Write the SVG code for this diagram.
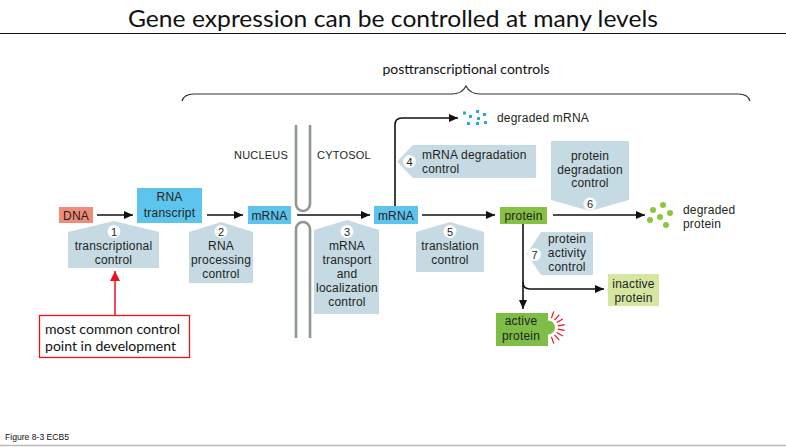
<svg xmlns="http://www.w3.org/2000/svg" width="786" height="447" viewBox="0 0 786 447">
<defs>
<style>
.lbl{font-family:"Liberation Sans",Arial,sans-serif;font-size:12px;letter-spacing:0.2px;fill:#231f20;text-anchor:middle}
.lft{text-anchor:start}
.n{font-size:11px;letter-spacing:0}
.ctl{fill:#c6dae3}
.num{fill:#fff}
.conn{stroke:#111;stroke-width:1.6;fill:none}
.mem{stroke:#8e9893;stroke-width:2.6;fill:none}
.cal{font-family:Lato,"Liberation Sans",sans-serif;fill:#111}
</style>
<marker id="ah" markerUnits="userSpaceOnUse" markerWidth="9" markerHeight="8" refX="9" refY="4" orient="auto">
<path d="M0,0 L9,4 L0,8 Z" fill="#111"/>
</marker>
<marker id="ahr" markerUnits="userSpaceOnUse" markerWidth="10" markerHeight="10" refX="10" refY="5" orient="auto">
<path d="M0,0 L10,5 L0,10 Z" fill="#e8141c"/>
</marker>
</defs>
<rect width="786" height="447" fill="#fff"/>

<text class="cal" x="393" y="27" font-size="24" text-anchor="middle" textLength="530" lengthAdjust="spacingAndGlyphs">Gene expression can be controlled at many levels</text>
<line x1="0" y1="33.5" x2="786" y2="33.5" stroke="#111" stroke-width="1.2"/>
<line x1="0" y1="445.5" x2="786" y2="445.5" stroke="#bbb" stroke-width="1.5"/>
<text x="5" y="440" font-family="'Liberation Sans',Arial,sans-serif" font-size="9" fill="#111" textLength="64" lengthAdjust="spacingAndGlyphs">Figure 8-3  ECB5</text>

<g id="brace">
<text class="cal" x="466" y="74" font-size="13.5" text-anchor="middle" textLength="167" lengthAdjust="spacingAndGlyphs">posttranscriptional controls</text>
<path d="M182,101 Q184,94 194,94 L452,94 Q462,94 466,86 Q470,94 480,94 L738,94 Q748,94 750,101" fill="none" stroke="#333" stroke-width="1.2"/>
</g>

<g id="membrane">
<path class="mem" d="M296,125 V204 A7,7 0 0 0 310,204 V125"/>
<path class="mem" d="M296,338 V229 A7,7 0 0 1 310,229 V338"/>
<text class="lbl lft" x="234" y="159" font-size="11" style="font-size:11px">NUCLEUS</text>
<text class="lbl lft" x="317" y="159" style="font-size:11px">CYTOSOL</text>
</g>

<g id="connectors">
<line class="conn" x1="97" y1="215" x2="133" y2="215" marker-end="url(#ah)"/>
<line class="conn" x1="207" y1="215" x2="243" y2="215" marker-end="url(#ah)"/>
<line class="conn" x1="297" y1="215" x2="370" y2="215" marker-end="url(#ah)"/>
<line class="conn" x1="422" y1="215" x2="495" y2="215" marker-end="url(#ah)"/>
<line class="conn" x1="553" y1="215" x2="645" y2="215" marker-end="url(#ah)"/>
<path class="conn" d="M395,206 V125 Q395,118 402,118 H458" marker-end="url(#ah)"/>
<path class="conn" d="M523,224 V309" marker-end="url(#ah)"/>
<path class="conn" d="M523,282 Q523,289 530,289 H604" marker-end="url(#ah)"/>
<line x1="115" y1="315" x2="115" y2="271" stroke="#e8141c" stroke-width="1.5" marker-end="url(#ahr)"/>
</g>

<g id="dna">
<rect x="59" y="207" width="34" height="16" fill="#f08b78"/>
<text class="lbl" x="76" y="220">DNA</text>
</g>
<g id="rna-transcript">
<rect x="137" y="188" width="65" height="35" fill="#5cc4ed"/>
<text class="lbl" x="169.5" y="201">RNA</text>
<text class="lbl" x="169.5" y="216.5">transcript</text>
</g>
<g id="mrna-nucleus">
<rect x="248" y="206" width="43" height="18" fill="#5cc4ed"/>
<text class="lbl" x="269.5" y="219.5">mRNA</text>
</g>
<g id="mrna-cytosol">
<rect x="374" y="206" width="44" height="18" fill="#5cc4ed"/>
<text class="lbl" x="396" y="219.5">mRNA</text>
</g>
<g id="protein">
<rect x="500" y="207" width="47" height="17" fill="#86c044"/>
<text class="lbl" x="523.5" y="220">protein</text>
</g>
<g id="degraded-mrna">
<g fill="#29a8e0">
<rect x="463" y="111.5" width="3" height="3"/>
<rect x="469" y="115" width="3" height="3"/>
<rect x="476" y="110" width="3" height="3"/>
<rect x="477" y="117" width="3" height="3"/>
<rect x="483" y="113" width="3" height="3"/>
<rect x="484" y="121" width="3" height="3"/>
<rect x="476" y="122" width="3" height="3"/>
<rect x="467" y="122" width="3" height="3"/>
</g>
<text class="lbl lft" x="497" y="122">degraded mRNA</text>
</g>
<g id="degraded-protein">
<g fill="#8cc63f">
<circle cx="653" cy="210" r="3"/>
<circle cx="663" cy="205" r="3"/>
<circle cx="670" cy="213" r="3"/>
<circle cx="660" cy="217" r="3"/>
<circle cx="650" cy="220" r="3"/>
<circle cx="666" cy="225" r="3"/>
</g>
<text class="lbl lft" x="683" y="214">degraded</text>
<text class="lbl lft" x="683" y="228">protein</text>
</g>
<g id="inactive-protein">
<rect x="608" y="274" width="51" height="32" fill="#d5e6a1"/>
<text class="lbl" x="633.5" y="288">inactive</text>
<text class="lbl" x="633.5" y="302">protein</text>
</g>
<g id="active-protein">
<path d="M496,313 H548 V320.5 A7,7 0 0 1 548,334.5 V346 H496 Z" fill="#7ebe46"/>
<text class="lbl" x="521" y="325">active</text>
<text class="lbl" x="521" y="340">protein</text>
<g stroke="#e8141c" stroke-width="1.2">
<line x1="551.4" y1="318.1" x2="553.8" y2="311.5"/>
<line x1="554.4" y1="320.1" x2="559.3" y2="314.9"/>
<line x1="556.7" y1="322.5" x2="562.8" y2="319"/>
<line x1="557.8" y1="325.8" x2="564.7" y2="324.6"/>
<line x1="557.8" y1="329.2" x2="564.7" y2="330.4"/>
<line x1="556.7" y1="332.5" x2="562.8" y2="336"/>
<line x1="554.4" y1="334.9" x2="559.3" y2="340.1"/>
<line x1="551.4" y1="336.9" x2="553.8" y2="343.5"/>
</g>
</g>

<g id="control-1">
<path class="ctl" d="M68,232 L114,221 L159,232 V268 H68 Z"/>
<circle class="num" cx="114" cy="231.5" r="6.5"/>
<text class="lbl n" x="114" y="235.5">1</text>
<text class="lbl" x="113.5" y="250">transcriptional</text>
<text class="lbl" x="113.5" y="264">control</text>
</g>
<g id="control-2">
<path class="ctl" d="M189,232 L221,222 L253,232 V283 H189 Z"/>
<circle class="num" cx="221" cy="231.5" r="6.5"/>
<text class="lbl n" x="221" y="235.5">2</text>
<text class="lbl" x="221" y="250">RNA</text>
<text class="lbl" x="221" y="264">processing</text>
<text class="lbl" x="221" y="278">control</text>
</g>
<g id="control-3">
<path class="ctl" d="M314,230 L347,220 L379,230 V314 H314 Z"/>
<circle class="num" cx="347" cy="231.5" r="6.5"/>
<text class="lbl n" x="347" y="235.5">3</text>
<text class="lbl" x="347" y="250">mRNA</text>
<text class="lbl" x="347" y="264">transport</text>
<text class="lbl" x="347" y="278">and</text>
<text class="lbl" x="347" y="292">localization</text>
<text class="lbl" x="347" y="306">control</text>
</g>
<g id="control-4">
<path class="ctl" d="M397,161.5 L413,145 H536 V178 H413 Z"/>
<circle class="num" cx="409.5" cy="161.5" r="6.5"/>
<text class="lbl n" x="409.5" y="165.5">4</text>
<text class="lbl lft" x="422" y="159">mRNA degradation</text>
<text class="lbl lft" x="422" y="173">control</text>
</g>
<g id="control-5">
<path class="ctl" d="M416,232 L450,222 L484,232 V272 H416 Z"/>
<circle class="num" cx="450" cy="231.5" r="6.5"/>
<text class="lbl n" x="450" y="235.5">5</text>
<text class="lbl" x="450" y="250">translation</text>
<text class="lbl" x="450" y="264">control</text>
</g>
<g id="control-6">
<path class="ctl" d="M551,141 H629 V200 L590,211 L551,200 Z"/>
<circle class="num" cx="590" cy="204" r="6.5"/>
<text class="lbl n" x="590" y="208">6</text>
<text class="lbl" x="590" y="160">protein</text>
<text class="lbl" x="590" y="173.5">degradation</text>
<text class="lbl" x="590" y="187">control</text>
</g>
<g id="control-7">
<path class="ctl" d="M527,254 L541,232 H593 V275 H541 Z"/>
<circle class="num" cx="534.5" cy="254.5" r="6.5"/>
<text class="lbl n" x="534.5" y="258.5">7</text>
<text class="lbl" x="567" y="243">protein</text>
<text class="lbl" x="567" y="257">activity</text>
<text class="lbl" x="567" y="271">control</text>
</g>

<g id="note">
<rect x="39.5" y="315.5" width="150" height="42" fill="#fff" stroke="#e8141c" stroke-width="1.3"/>
<text class="cal" x="45" y="334" font-size="14" textLength="135" lengthAdjust="spacingAndGlyphs">most common control</text>
<text class="cal" x="45" y="351" font-size="14" textLength="131" lengthAdjust="spacingAndGlyphs">point in development</text>
</g>
</svg>
